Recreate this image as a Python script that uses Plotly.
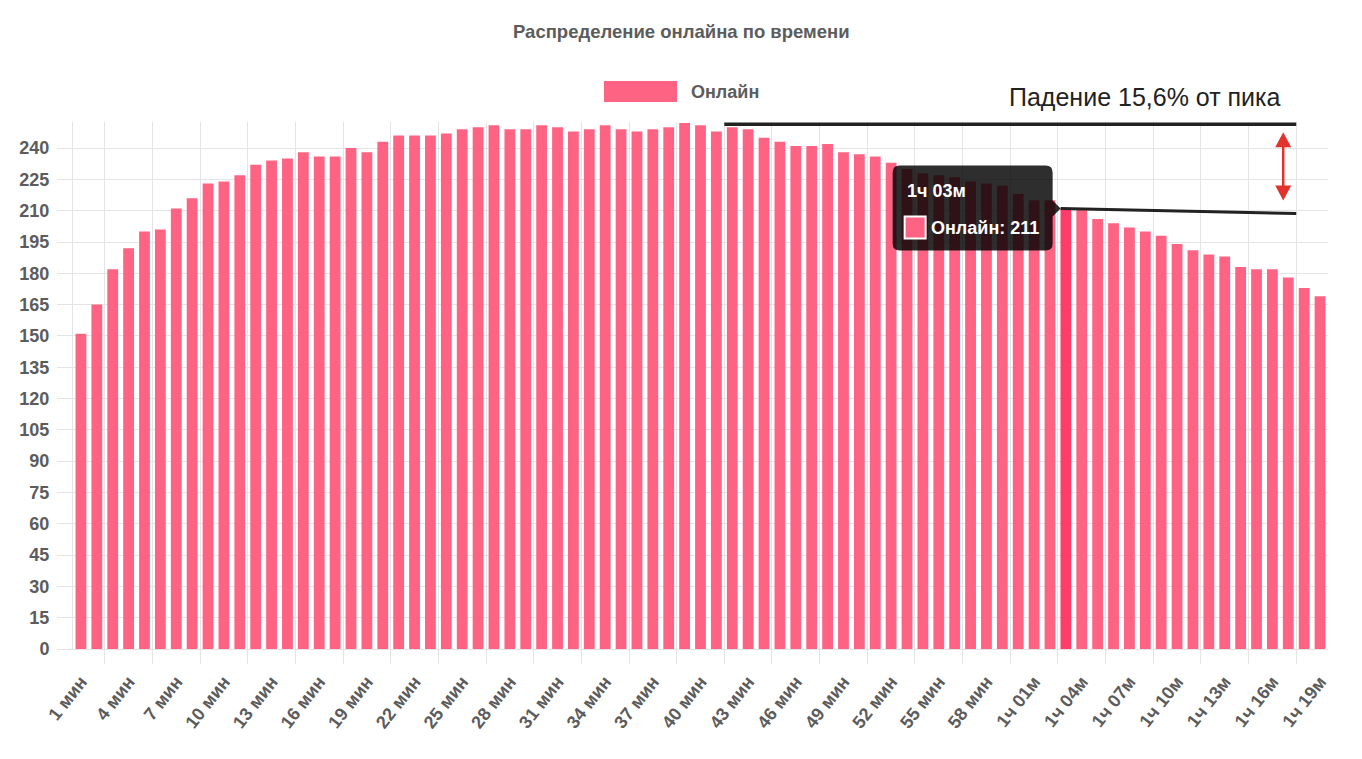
import plotly.graph_objects as go

# ---- data -------------------------------------------------------------------
LABELS = [
    "1 мин", "2 мин", "3 мин", "4 мин", "5 мин", "6 мин", "7 мин", "8 мин", "9 мин", "10 мин",
    "11 мин", "12 мин", "13 мин", "14 мин", "15 мин", "16 мин", "17 мин", "18 мин", "19 мин", "20 мин",
    "21 мин", "22 мин", "23 мин", "24 мин", "25 мин", "26 мин", "27 мин", "28 мин", "29 мин", "30 мин",
    "31 мин", "32 мин", "33 мин", "34 мин", "35 мин", "36 мин", "37 мин", "38 мин", "39 мин", "40 мин",
    "41 мин", "42 мин", "43 мин", "44 мин", "45 мин", "46 мин", "47 мин", "48 мин", "49 мин", "50 мин",
    "51 мин", "52 мин", "53 мин", "54 мин", "55 мин", "56 мин", "57 мин", "58 мин", "59 мин", "1ч 00м",
    "1ч 01м", "1ч 02м", "1ч 03м", "1ч 04м", "1ч 05м", "1ч 06м", "1ч 07м", "1ч 08м", "1ч 09м", "1ч 10м",
    "1ч 11м", "1ч 12м", "1ч 13м", "1ч 14м", "1ч 15м", "1ч 16м", "1ч 17м", "1ч 18м", "1ч 19м",
]
ONLINE = [
    151, 165, 182, 192, 200, 201, 211, 216, 223, 224,
    227, 232, 234, 235, 238, 236, 236, 240, 238, 243,
    246, 246, 246, 247, 249, 250, 251, 249, 249, 251,
    250, 248, 249, 251, 249, 248, 249, 250, 252, 251,
    248, 250, 249, 245, 243, 241, 241, 242, 238, 237,
    236, 233, 230, 228, 227, 226, 224, 223, 222, 218,
    215, 215, 211, 211, 206, 204, 202, 200, 198, 194,
    191, 189, 188, 183, 182, 182, 178, 173, 169,
]
Y_TICKS = [0, 15, 30, 45, 60, 75, 90, 105, 120, 135, 150, 165, 180, 195, 210, 225, 240]
HOVER_LABEL = "1ч 03м"
DROP_TEXT = "Падение 15,6% от пика"

# ---- geometry (page pixels; the page body adds an 8px margin) ----------------
PAGE_W, PAGE_H = 1362, 759
OFF = 8
W, H = PAGE_W - 2 * OFF, PAGE_H - 2 * OFF
PLOT_L, PLOT_R, PLOT_T, PLOT_B = 73, 1328, 122, 649   # plot area on the page
ML, MT = PLOT_L - OFF, PLOT_T - OFF
MR, MB = W - (PLOT_R - OFF), H - (PLOT_B - OFF)
Y_MAX = 252.5

PINK = "#ff6384"
PINK_HOVER = "#ff3d6b"
GREY = "#5c5c5c"
GRID = "#e4e4e4"
FONT = "Liberation Sans, Arial, sans-serif"

x_pos = list(range(1, len(LABELS) + 1))
hover_i = LABELS.index(HOVER_LABEL)
hover_x = x_pos[hover_i]
hover_y = ONLINE[hover_i]
peak = max(ONLINE)


def px(x):  # page pixel -> paper x
    return (x - PLOT_L) / (PLOT_R - PLOT_L)


def py(y):  # page pixel -> paper y
    return (PLOT_B - y) / (PLOT_B - PLOT_T)


def data_to_px(x, y):
    xp = PLOT_L + (x - 0.5) / len(LABELS) * (PLOT_R - PLOT_L)
    yp = PLOT_B - y / Y_MAX * (PLOT_B - PLOT_T)
    return xp, yp


def path(points):
    s = "M " + " L ".join(f"{px(a):.5f},{py(b):.5f}" for a, b in points)
    return s + " Z"


colors = [PINK_HOVER if i == hover_i else PINK for i in range(len(LABELS))]

fig = go.Figure()
fig.add_trace(go.Bar(
    x=x_pos,
    y=ONLINE,
    name="Онлайн",
    marker=dict(color=colors, line=dict(width=0)),
    showlegend=False,
    hoverinfo="skip",
))

shapes = []
annotations = []

# legend box + title drawn by hand (chart.js style)
shapes.append(dict(type="rect", xref="paper", yref="paper",
                   x0=px(604), x1=px(677), y0=py(81), y1=py(102),
                   fillcolor=PINK, line=dict(width=0)))
annotations.append(dict(text="Онлайн", xref="paper", yref="paper",
                        x=px(689), y=py(92), xanchor="left", yanchor="middle",
                        showarrow=False,
                        font=dict(family=FONT, size=18, color=GREY, weight="bold")))
annotations.append(dict(text="Распределение онлайна по времени", xref="paper", yref="paper",
                        x=px(681), y=py(32), xanchor="center", yanchor="middle",
                        showarrow=False,
                        font=dict(family=FONT, size=18.5, color=GREY, weight="bold")))

# peak line and current line
shapes.append(dict(type="line", xref="x", yref="y",
                   x0=41.5, x1=77.5, y0=peak - 0.6, y1=peak - 0.6,
                   line=dict(color="#222222", width=3.5), layer="above"))

tip_x, tip_y = data_to_px(hover_x - 0.33, hover_y)
end_x, _ = data_to_px(77.5, 0)
shapes.append(dict(type="line", xref="paper", yref="paper",
                   x0=px(tip_x), y0=py(tip_y), x1=px(end_x), y1=py(tip_y + 5),
                   line=dict(color="#222222", width=3), layer="above"))

# red double arrow
_, peak_py = data_to_px(0, peak - 0.6)
ax = end_x - 13
a_top, a_bot = peak_py + 8, tip_y - 8
shapes.append(dict(type="line", xref="paper", yref="paper",
                   x0=px(ax), x1=px(ax), y0=py(a_top + 10), y1=py(a_bot - 10),
                   line=dict(color="#e2322d", width=2.5)))
shapes.append(dict(type="path", xref="paper", yref="paper",
                   path=path([(ax, a_top), (ax - 8, a_top + 15), (ax + 8, a_top + 15)]),
                   fillcolor="#e2322d", line=dict(width=0)))
shapes.append(dict(type="path", xref="paper", yref="paper",
                   path=path([(ax, a_bot), (ax - 8, a_bot - 15), (ax + 8, a_bot - 15)]),
                   fillcolor="#e2322d", line=dict(width=0)))

annotations.append(dict(text=DROP_TEXT, xref="paper", yref="paper",
                        x=px(1145), y=py(97), xanchor="center", yanchor="middle",
                        showarrow=False,
                        font=dict(family=FONT, size=25, color="#222222")))

# tooltip
x1 = tip_x - 8
x0 = x1 - 160
y0, y1 = tip_y - 43, tip_y + 42
r = 7
box = (
    f"M {px(x0 + r):.5f},{py(y0):.5f} L {px(x1 - r):.5f},{py(y0):.5f} "
    f"Q {px(x1):.5f},{py(y0):.5f} {px(x1):.5f},{py(y0 + r):.5f} "
    f"L {px(x1):.5f},{py(tip_y - 8):.5f} L {px(tip_x):.5f},{py(tip_y):.5f} "
    f"L {px(x1):.5f},{py(tip_y + 8):.5f} "
    f"L {px(x1):.5f},{py(y1 - r):.5f} Q {px(x1):.5f},{py(y1):.5f} {px(x1 - r):.5f},{py(y1):.5f} "
    f"L {px(x0 + r):.5f},{py(y1):.5f} Q {px(x0):.5f},{py(y1):.5f} {px(x0):.5f},{py(y1 - r):.5f} "
    f"L {px(x0):.5f},{py(y0 + r):.5f} Q {px(x0):.5f},{py(y0):.5f} {px(x0 + r):.5f},{py(y0):.5f} Z"
)
shapes.append(dict(type="path", xref="paper", yref="paper", path=box,
                   fillcolor="rgba(0,0,0,0.82)", line=dict(width=0), layer="above"))
shapes.append(dict(type="rect", xref="paper", yref="paper",
                   x0=px(x0 + 12), x1=px(x0 + 33), y0=py(y0 + 51), y1=py(y0 + 73),
                   fillcolor=PINK, line=dict(color="white", width=2), layer="above"))
annotations.append(dict(text=HOVER_LABEL, xref="paper", yref="paper",
                        x=px(x0 + 12), y=py(y0 + 25), xanchor="left", yanchor="middle",
                        showarrow=False,
                        font=dict(family=FONT, size=18, color="white", weight="bold")))
annotations.append(dict(text=f"Онлайн: {hover_y}", xref="paper", yref="paper",
                        x=px(x0 + 36), y=py(y0 + 62), xanchor="left", yanchor="middle",
                        showarrow=False,
                        font=dict(family=FONT, size=18, color="white", weight="bold")))

fig.update_layout(
    width=W,
    height=H,
    margin=dict(l=ML, r=MR, t=MT, b=MB, pad=0),
    paper_bgcolor="white",
    plot_bgcolor="white",
    bargap=0.32,
    shapes=shapes,
    annotations=annotations,
    xaxis=dict(
        range=[0.5, len(LABELS) + 0.5],
        tickmode="array",
        tickvals=x_pos[::3],
        ticktext=LABELS[::3],
        tickangle=-52,
        ticks="",
        showgrid=False,
        showline=True,
        linecolor=GRID,
        linewidth=1,
        ticklabelstandoff=14,
        tickfont=dict(family=FONT, size=18, color=GREY, weight="bold"),
        minor=dict(tickmode="linear", tick0=2.5, dtick=3, ticks="outside",
                   ticklen=14, tickcolor=GRID, showgrid=True, gridcolor=GRID),
        fixedrange=True,
    ),
    yaxis=dict(
        range=[0, Y_MAX],
        tickmode="array",
        tickvals=Y_TICKS,
        ticks="outside",
        ticklen=15,
        tickcolor=GRID,
        showgrid=True,
        gridcolor=GRID,
        zeroline=False,
        showline=True,
        linecolor=GRID,
        ticklabelstandoff=4,
        tickfont=dict(family=FONT, size=18, color=GREY, weight="bold"),
        fixedrange=True,
    ),
)

fig.write_html("out.html")
